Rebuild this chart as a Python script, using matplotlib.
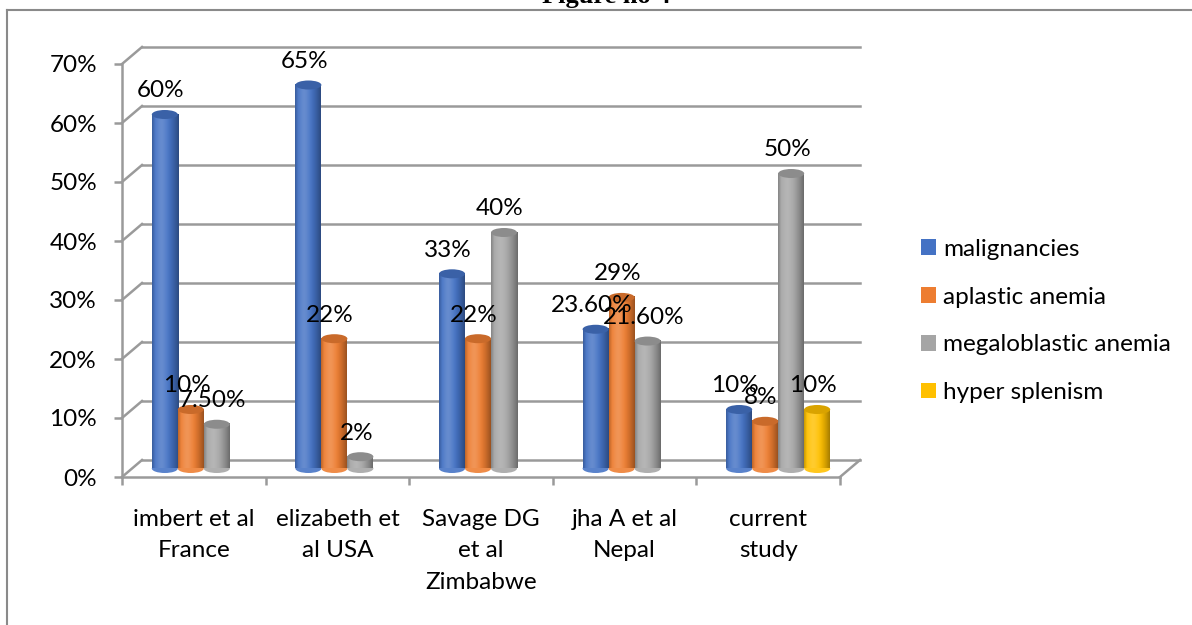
import numpy as np
import matplotlib.pyplot as plt
from matplotlib.patches import Ellipse, Rectangle
from matplotlib.lines import Line2D
from matplotlib.colors import to_rgb


# ── Data ─────────────────────────────────────────────────────────────────────
categories = ["imbert et al\nFrance", "elizabeth et\nal USA", "Savage DG\net al\nZimbabwe",
              "jha A et al\nNepal", "current\nstudy"]
series_names = ["malignancies", "aplastic anemia", "megaloblastic anemia", "hyper splenism"]
malignancies = [60, 65, 33, 23.6, 10]
aplastic_anemia = [10, 22, 22, 29, 8]
megaloblastic_anemia = [7.5, 2, 40, 21.6, 50]
hyper_splenism = [np.nan, np.nan, np.nan, np.nan, 10]
y_ticks = [0, 10, 20, 30, 40, 50, 60, 70]

series = [malignancies, aplastic_anemia, megaloblastic_anemia, hyper_splenism]
colors = ["#4472C4", "#ED7D31", "#A5A5A5", "#FFC000"]

# ── Geometry (pixels -> data units) ──────────────────────────────────────────
W, H = 1192, 625
AX_L, AX_R, AX_T, AX_B = 122, 840, 64, 477
PX_CAT = (AX_R - AX_L) / len(categories)
PX_PCT = (AX_B - AX_T) / 70
DX = 20 / PX_CAT          # depth offset, x
DY = 17 / PX_PCT          # depth offset, y
BAR_W = 26 / PX_CAT
TOP_H = 9 / PX_PCT
GRID = "#9a9a9a"
FS = 17.5

plt.rcParams["font.family"] = ["Lato", "DejaVu Sans"]

fig = plt.figure(figsize=(W / 100, H / 100), dpi=100)
ax = fig.add_axes([AX_L / W, 1 - AX_B / H, (AX_R - AX_L) / W, (AX_B - AX_T) / H])


def shade(base, t):
    c = np.array(to_rgb(base))
    hi = np.exp(-((t - 0.35) / 0.22) ** 2)
    dark = np.clip((t - 0.55) / 0.45, 0, 1) ** 1.5 * 0.35 + np.clip((0.12 - t) / 0.12, 0, 1) * 0.2
    out = c[None, :] * (1 - dark[:, None]) + (1 - c[None, :]) * 0.18 * hi[:, None]
    return np.clip(out, 0, 1)


def cylinder(xc, top, base):
    x0, x1 = xc - BAR_W / 2, xc + BAR_W / 2
    y0 = DY / 2
    t = np.linspace(0, 1, 64)
    grad = shade(base, t)[None, :, :]
    mid = shade(base, np.array([0.5]))[0]
    ax.add_patch(Ellipse((xc, y0), BAR_W, TOP_H, facecolor=mid, edgecolor="none", zorder=3))
    ax.imshow(grad, extent=[x0, x1, y0, y0 + top], aspect="auto", interpolation="bilinear", zorder=4)
    top_c = np.array(to_rgb(base)) * 0.85
    ax.add_patch(Ellipse((xc, y0 + top), BAR_W, TOP_H, facecolor=top_c, edgecolor="none", zorder=5))


# ── Walls and gridlines ──────────────────────────────────────────────────────
n = len(categories)
for v in y_ticks:
    ax.plot([DX, n + DX], [v + DY, v + DY], color=GRID, lw=1.8, clip_on=False, zorder=1)
    ax.plot([0, DX], [v, v + DY], color=GRID, lw=1.8, clip_on=False, zorder=1)
ax.plot([n, n + DX], [0, DY], color=GRID, lw=1.8, clip_on=False, zorder=1)

# ── Bars ─────────────────────────────────────────────────────────────────────
centers = np.arange(n) + 0.5
for i, (vals, col) in enumerate(zip(series, colors)):
    for c, v in zip(centers, vals):
        if np.isnan(v):
            continue
        xc = c + (i - 1.5) * BAR_W + DX / 2
        cylinder(xc, v, col)
        lab = f"{v:.0f}%" if float(v).is_integer() else f"{v:.2f}%"
        ax.annotate(lab, (xc, v + DY / 2), xytext=(-3, 17), textcoords="offset points",
                    ha="center", va="center", fontsize=FS, color="black", zorder=10,
                    annotation_clip=False)

# ── Axes ─────────────────────────────────────────────────────────────────────
ax.set_xlim(0, n)
ax.set_ylim(0, 70)
for s in ["top", "right"]:
    ax.spines[s].set_visible(False)
for s in ["left", "bottom"]:
    ax.spines[s].set_color(GRID)
    ax.spines[s].set_linewidth(1.8)
    ax.spines[s].set_zorder(6)
ax.set_yticks(y_ticks, [f"{v}%" for v in y_ticks])
ax.set_xticks(centers, categories)
ax.set_xticks(np.arange(n + 1), minor=True)
ax.tick_params(axis="y", length=6, width=1.8, color=GRID, pad=12, labelsize=FS)
ax.tick_params(axis="x", which="major", length=0, pad=23, labelsize=FS)
ax.tick_params(axis="x", which="minor", length=6, width=1.8, color=GRID)
for t in ax.get_xticklabels():
    t.set_linespacing(1.62)
ax.set_facecolor("none")

# ── Legend ───────────────────────────────────────────────────────────────────
handles = [Rectangle((0, 0), 1, 1, facecolor=c, edgecolor="none") for c in colors]
fig.legend(handles, series_names, loc="center left", bbox_to_anchor=(921 / W, 1 - 321 / H),
           frameon=False, fontsize=FS, handlelength=0.62, handleheight=0.62,
           handletextpad=0.3, labelspacing=1.1, borderpad=0, borderaxespad=0)

# ── Frame and title ──────────────────────────────────────────────────────────
fig.add_artist(Line2D([7 / W, 7 / W], [0, 1 - 10 / H], color="#8a8a8a", lw=1.5))
fig.add_artist(Line2D([7 / W, 1], [1 - 10 / H, 1 - 10 / H], color="#8a8a8a", lw=1.5))
fig.text(606 / W, 1 - 3 / H, "Figure no 4", family="Liberation Serif", weight="bold",
         fontsize=19, ha="center", va="baseline")

fig.savefig("out.png", dpi=100)
